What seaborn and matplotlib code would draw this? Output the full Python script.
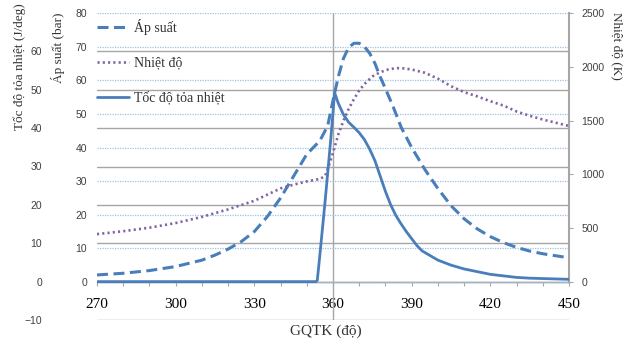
import matplotlib
matplotlib.use("Agg")
import matplotlib.pyplot as plt
import seaborn as sns
import numpy as np

# Góc quay trục khuỷu (độ) và các đại lượng đọc từ đồ thị
heat_deg = [270, 300, 330, 350, 353.5, 354, 355, 357, 359, 360, 360.6, 362, 364, 366, 368,
            370, 372, 374, 376, 378, 380, 382, 384, 386, 388, 390, 392, 394, 397, 400,
            405, 410, 415, 420, 425, 430, 435, 440, 445, 450]
heat_val = [0, 0, 0, 0, 0, 0.3, 7, 21, 36, 44, 49.3, 46.5, 43.5, 41.5, 40.2,
            38.8, 37, 34.5, 31.5, 27.5, 23.5, 20, 17.2, 15, 13, 11.2, 9.4, 8.0, 6.8, 5.6,
            4.3, 3.3, 2.6, 1.9, 1.5, 1.1, 0.9, 0.8, 0.7, 0.6]

press_deg = [270, 280, 290, 300, 310, 315, 320, 325, 330, 335, 340, 345, 350, 355, 358,
             360, 362, 364, 366, 368, 370, 372, 374, 376, 378, 380, 383, 386, 390, 395,
             400, 405, 410, 415, 420, 425, 430, 435, 440, 445, 450]
press_val = [2.1, 2.6, 3.4, 4.6, 6.5, 8, 9.8, 12, 15, 19.5, 25, 31.5, 38, 42, 46.5,
             54, 61, 66.5, 69.8, 71, 71, 70, 68, 65, 61, 57.5, 52, 46, 40, 33.5,
             27.8, 22.7, 18.8, 15.8, 13.5, 11.7, 10.3, 9.2, 8.4, 7.8, 7.2]

temp_deg = [270, 280, 290, 300, 310, 320, 330, 340, 345, 350, 355, 357, 358, 360, 362,
            364, 366, 368, 370, 372, 375, 378, 381, 384, 387, 390, 395, 400, 405, 410,
            415, 420, 425, 430, 435, 440, 445, 450]
temp_val = [445, 472, 505, 548, 605, 675, 755, 870, 905, 935, 958, 985, 1050, 1200, 1370,
            1500, 1610, 1700, 1780, 1840, 1910, 1950, 1975, 1988, 1985, 1975, 1945, 1890, 1820, 1765,
            1725, 1680, 1640, 1585, 1545, 1510, 1480, 1450]

x_ticks = [270, 300, 330, 360, 390, 420, 450]
heat_ticks = [-10, 0, 10, 20, 30, 40, 50, 60]
press_ticks = [0, 10, 20, 30, 40, 50, 60, 70, 80]
temp_ticks = [0, 500, 1000, 1500, 2000, 2500]

sns.set_theme(style="white")
plt.rcParams['font.family'] = ['Liberation Serif', 'DejaVu Serif']

BLUE = '#4A7EBB'
PURPLE = '#8064A2'
GRID = '#A6A6A6'
TXT = '#404040'
SANS = ['Liberation Sans', 'DejaVu Sans']

fig = plt.figure(figsize=(6.36, 3.42), dpi=100)
rect = [97 / 636, 1 - 320 / 342, (569 - 97) / 636, (320 - 13) / 342]

# trục tốc độ tỏa nhiệt (lưới xám)
ax = fig.add_axes(rect)
ax.set_xlim(270, 450)
ax.set_ylim(-10, 70)
ax.set_yticks(heat_ticks)
ax.yaxis.grid(True, color=GRID, linewidth=1.0, linestyle='-')
ax.xaxis.grid(False)
ax.set_xticks(x_ticks)
ax.set_xticks(range(270, 451, 10), minor=True)
for s in ['top', 'right', 'left']:
    ax.spines[s].set_visible(False)
ax.spines['bottom'].set_position(('data', 0))
ax.spines['bottom'].set_color(GRID)
ax.spines['bottom'].set_linewidth(1.0)
ax.tick_params(axis='y', length=0, pad=39.5, labelsize=7.5, labelcolor=TXT)
ax.tick_params(axis='x', which='both', direction='out', length=3, width=0.8,
               color=GRID, bottom=True, labelsize=11, pad=8.5, labelcolor='black')
for lbl in ax.get_yticklabels():
    lbl.set_fontfamily(SANS)
ax.axvline(360, color=GRID, linewidth=1.0, zorder=1)
ax.patch.set_visible(False)

# trục áp suất (lưới xanh chấm)
axp = ax.twinx()
axp.set_ylim(-11.3, 80)
axp.set_yticks(press_ticks)
axp.yaxis.tick_left()
axp.yaxis.grid(True, color='#9DC3E6', linewidth=0.9, linestyle=(0, (1, 1)))
axp.tick_params(axis='y', length=0, pad=7, labelsize=7.5, labelcolor=TXT)
for lbl in axp.get_yticklabels():
    lbl.set_fontfamily(SANS)
for s in axp.spines.values():
    s.set_visible(False)
axp.patch.set_visible(False)
sns.lineplot(x=press_deg, y=press_val, ax=axp, color=BLUE, linewidth=2.2,
             linestyle=(0, (3.6, 1.8)), legend=False)
axp.set_xlim(270, 450)

# trục nhiệt độ
axt = ax.twinx()
axt.set_ylim(-353, 2500)
axt.set_yticks(temp_ticks)
for s in ['top', 'left', 'bottom']:
    axt.spines[s].set_visible(False)
axt.spines['right'].set_color(GRID)
axt.spines['right'].set_linewidth(1.5)
axt.spines['right'].set_bounds(0, 2500)
axt.tick_params(axis='y', right=True, direction='out', length=3, width=0.8, color=GRID,
                pad=6, labelsize=7.5, labelcolor=TXT)
for lbl in axt.get_yticklabels():
    lbl.set_fontfamily(SANS)
axt.patch.set_visible(False)
sns.lineplot(x=temp_deg, y=temp_val, ax=axt, color=PURPLE, linewidth=1.9,
             linestyle=(0, (0.8, 1.2)), legend=False)
axt.set_xlim(270, 450)

# đường tốc độ tỏa nhiệt, cùng thang với trục trái ngoài
axq = ax.twinx()
axq.set_ylim(-10, 70)
axq.set_yticks([])
for s in axq.spines.values():
    s.set_visible(False)
axq.patch.set_visible(False)
sns.lineplot(x=heat_deg, y=heat_val, ax=axq, color=BLUE, linewidth=2.0, legend=False)
axq.set_xlim(270, 450)
for a in (axp, axt, axq):
    a.set_xlabel('')
    a.set_ylabel('')

handles = [axp.lines[0], axt.lines[0], axq.lines[0]]
labels = ['Áp suất', 'Nhiệt độ', 'Tốc độ tỏa nhiệt']
leg = axq.legend(handles, labels, loc='upper left', bbox_to_anchor=(97 / 636, 1 - 19 / 342),
                 bbox_transform=fig.transFigure, frameon=False, fontsize=10,
                 handlelength=2.3, handletextpad=0.4, labelspacing=1.55, borderaxespad=0,
                 borderpad=0)
for t in leg.get_texts():
    t.set_color('#333333')

fig.text(20 / 636, 1 - 67 / 342, 'Tốc độ tỏa nhiệt (J/deg)', rotation=90, ha='center',
         va='center', fontsize=9.5, color='#333333')
fig.text(58 / 636, 1 - 48 / 342, 'Áp suất (bar)', rotation=90, ha='center',
         va='center', fontsize=9.5, color='#333333')
fig.text(617 / 636, 1 - 46 / 342, 'Nhiệt độ (K)', rotation=-90, ha='center',
         va='center', fontsize=9.5, color='#333333')
fig.text(326 / 636, 1 - 331 / 342, 'GQTK (độ)', ha='center', va='center',
         fontsize=11, color='#333333')

fig.savefig('out.png', dpi=100)
